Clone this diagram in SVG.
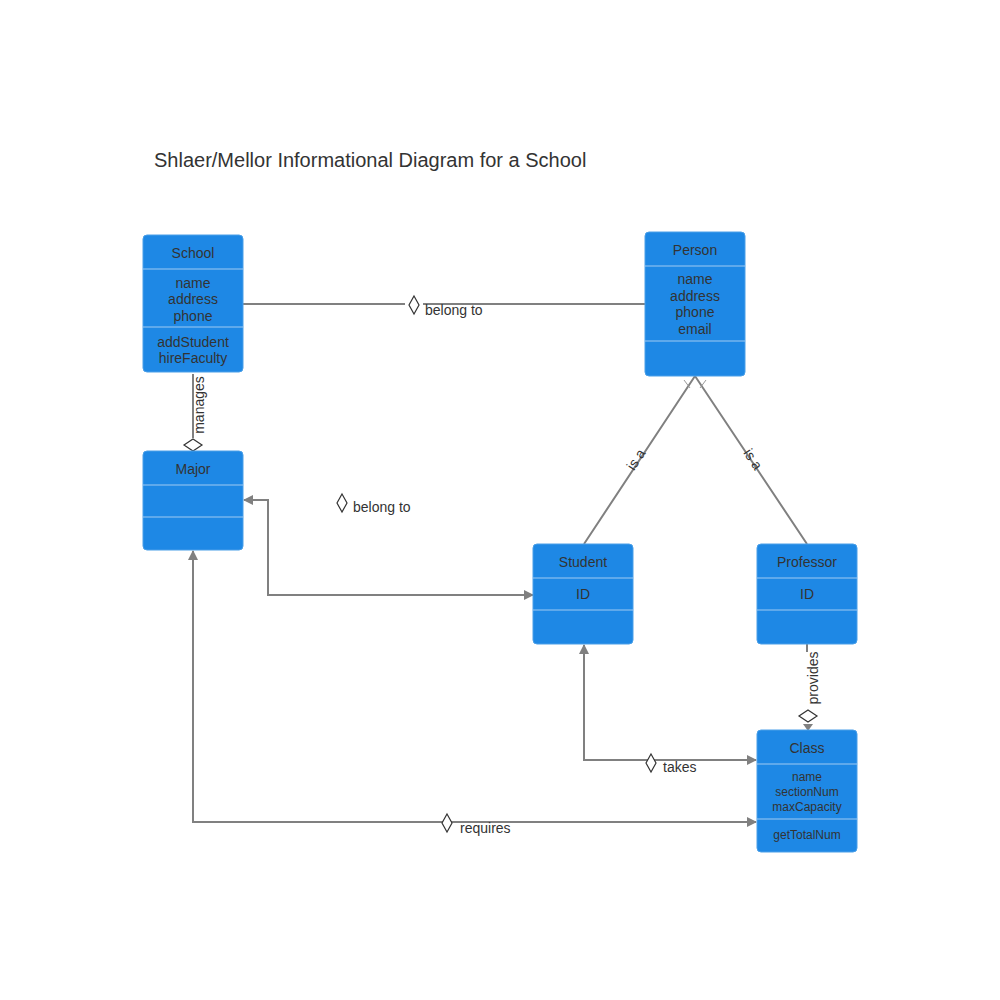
<svg xmlns="http://www.w3.org/2000/svg" width="1000" height="1000" viewBox="0 0 1000 1000">
<style>
.box{fill:#1e88e5;stroke:#4a9fe8;stroke-width:1}
.sep{stroke:#9fcaf2;stroke-width:1}
.t{font-family:"Liberation Sans",Arial,sans-serif;font-size:14px;fill:#333;text-anchor:middle}
.s{font-size:13px}
.x{font-size:12px}
.l{font-family:"Liberation Sans",Arial,sans-serif;font-size:14px;fill:#333}
.c{fill:none;stroke:#808080;stroke-width:2}
.d{fill:#fff;stroke:#333;stroke-width:1.2}
</style>
<defs>
<marker id="a" markerWidth="10" markerHeight="10" refX="9" refY="5" orient="auto-start-reverse" markerUnits="userSpaceOnUse"><path d="M0,0L10,5L0,10z" fill="#808080"/></marker>
</defs>
<rect width="1000" height="1000" fill="#fff"/>
<text x="154" y="167" font-family="Liberation Sans,Arial,sans-serif" font-size="20" fill="#333">Shlaer/Mellor Informational Diagram for a School</text>
<g id="connectors">
<path class="c" d="M243,304H405M423,304H645"/>
<path class="d" d="M414,296L419,305L414,314L409,305z"/>
<text class="l" x="425" y="315">belong to</text>
<path class="c" d="M193,372V438"/>
<rect x="176" y="368" width="36" height="6" fill="#fff"/>
<text class="l" transform="translate(204,405) rotate(-90)" text-anchor="middle">manages</text>
<path class="d" d="M193,439L202,445L193,451L184,445z"/>
<path class="c" d="M695,376L584,544M695,376L807,544"/>
<path d="M684,380L690,388M706,380L700,388" stroke="#999" stroke-width="1"/>
<text class="l" transform="translate(640,462) rotate(-57)" text-anchor="middle">is a</text>
<text class="l" transform="translate(749,462) rotate(57)" text-anchor="middle">is a</text>
<path class="c" d="M533,595H268V500H244" marker-start="url(#a)" marker-end="url(#a)"/>
<path class="d" d="M342,494L347,503L342,512L337,503z"/>
<text class="l" x="353" y="512">belong to</text>
<path class="c" d="M584,645V760H756" marker-start="url(#a)" marker-end="url(#a)"/>
<path class="d" d="M651,754L656,763L651,772L646,763z"/>
<text class="l" x="663" y="772">takes</text>
<path class="c" d="M193,551V822H756" marker-start="url(#a)" marker-end="url(#a)"/>
<path class="d" d="M447,814L452,823L447,832L442,823z"/>
<text class="l" x="460" y="833">requires</text>
<path class="c" d="M807,644V652"/>
<text class="l" transform="translate(818,678) rotate(-90)" text-anchor="middle">provides</text>
<path class="d" d="M808,710L817,716L808,722L799,716z"/>
<path d="M803,724L813,724L808,731z" fill="#808080"/>
</g>
<g id="school"><rect class="box" x="143" y="235" width="100" height="137" rx="4"/><path class="sep" d="M143,269H243M143,327H243"/>
<text class="t" x="193" y="258">School</text><text class="t" x="193" y="288">name</text><text class="t" x="193" y="304">address</text><text class="t" x="193" y="321">phone</text><text class="t" x="193" y="347">addStudent</text><text class="t" x="193" y="363">hireFaculty</text></g>
<g id="person"><rect class="box" x="645" y="232" width="100" height="144" rx="4"/><path class="sep" d="M645,266H745M645,341H745"/>
<text class="t" x="695" y="255">Person</text><text class="t" x="695" y="284">name</text><text class="t" x="695" y="301">address</text><text class="t" x="695" y="317">phone</text><text class="t" x="695" y="334">email</text></g>
<g id="major"><rect class="box" x="143" y="451" width="100" height="99" rx="4"/><path class="sep" d="M143,485H243M143,517H243"/>
<text class="t" x="193" y="474">Major</text></g>
<g id="student"><rect class="box" x="533" y="544" width="100" height="100" rx="4"/><path class="sep" d="M533,578H633M533,610H633"/>
<text class="t" x="583" y="567">Student</text><text class="t" x="583" y="599">ID</text></g>
<g id="professor"><rect class="box" x="757" y="544" width="100" height="100" rx="4"/><path class="sep" d="M757,578H857M757,610H857"/>
<text class="t" x="807" y="567">Professor</text><text class="t" x="807" y="599">ID</text></g>
<g id="class"><rect class="box" x="757" y="730" width="100" height="122" rx="4"/><path class="sep" d="M757,764H857M757,819H857"/>
<text class="t" x="807" y="753">Class</text><text class="t x" x="807" y="781">name</text><text class="t x" x="807" y="796">sectionNum</text><text class="t x" x="807" y="811">maxCapacity</text><text class="t x" x="807" y="839">getTotalNum</text></g>
</svg>
